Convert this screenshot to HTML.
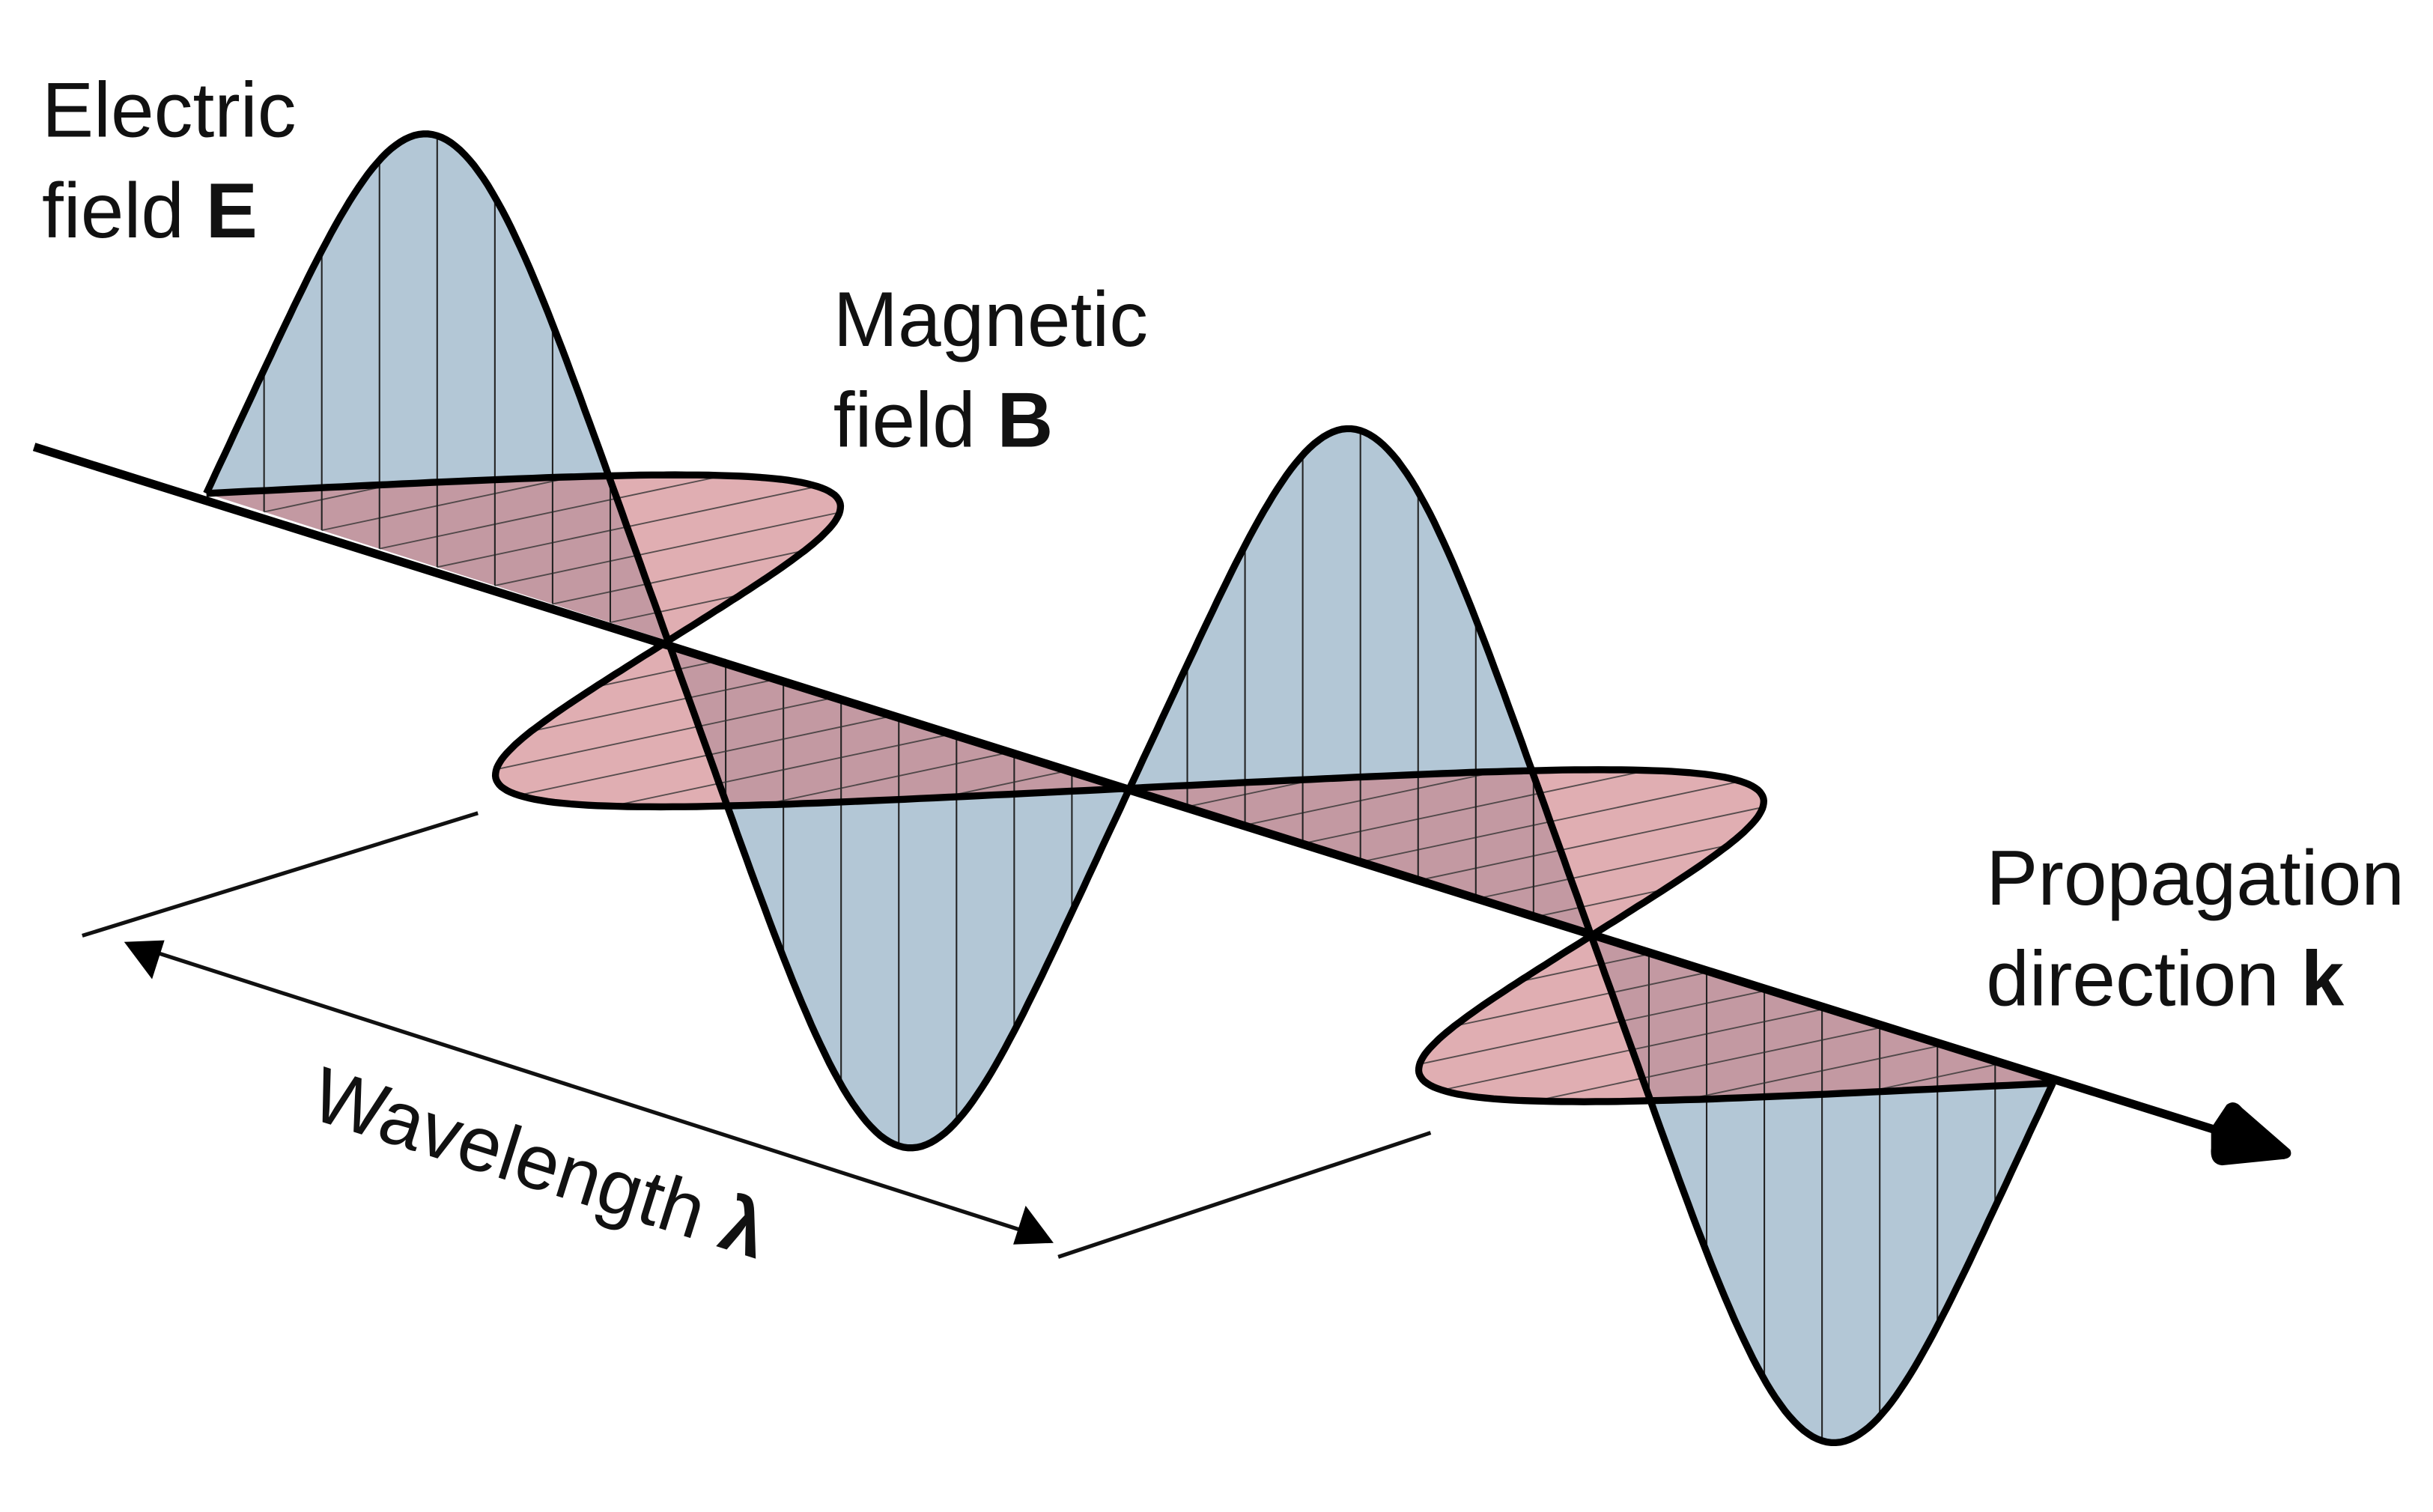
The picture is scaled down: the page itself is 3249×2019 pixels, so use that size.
<!DOCTYPE html>
<html><head><meta charset="utf-8"><style>
html,body{margin:0;padding:0;background:#fff;}
svg{display:block;}
text{font-family:"Liberation Sans",sans-serif;fill:#111;}
</style></head><body>
<svg id="s" width="3249" height="2019" viewBox="0 0 1568 974.4" preserveAspectRatio="none" xmlns="http://www.w3.org/2000/svg">
<g id="fills"></g>
<g id="hatch"></g>
<g id="curves"></g>
<line x1="22" y1="288" x2="1440" y2="732" stroke="#000" stroke-width="5.5"/>
<path d="M1425,727 L1435,712 Q1440,708 1445,714 L1476,741 Q1478,746 1472,747 L1432,751 Q1424,750 1425,740 Z" fill="#000"/>
<line x1="53" y1="603" x2="308" y2="524" stroke="#111" stroke-width="2.5"/>
<line x1="682" y1="810" x2="922" y2="730" stroke="#111" stroke-width="2.5"/>
<line x1="95" y1="612" x2="665" y2="795" stroke="#111" stroke-width="2.5"/>
<path d="M80,607 L106,606 L98,631 Z" fill="#000"/>
<path d="M679,801 L653,802 L661,777 Z" fill="#000"/>
<text x="27" y="88" font-size="50">Electric</text>
<text x="27" y="153" font-size="50">field <tspan font-weight="bold">E</tspan></text>
<text x="537" y="223" font-size="50">Magnetic</text>
<text x="537" y="288" font-size="50">field <tspan font-weight="bold">B</tspan></text>
<text x="1280" y="583" font-size="50">Propagation</text>
<text x="1280" y="648" font-size="50">direction <tspan font-weight="bold">k</tspan></text>
<text transform="translate(198,720) rotate(17.5)" font-size="50">Wavelength <tspan font-weight="bold">λ</tspan></text>
</svg>
<script>
(function(){
var NS="http://www.w3.org/2000/svg";
var A=[133,318],H=[297.5,95],E=[0,-278],D=[245,-52];
function ax(t){var k=t/Math.PI;return [A[0]+k*H[0],A[1]+k*H[1]];}
function pe(t){var a=ax(t),s=Math.sin(t-0.08*Math.sin(2*t));return [a[0]+s*E[0],a[1]+s*E[1]];}
function pb(t){var a=ax(t),s=Math.sin(t-0.06*Math.sin(2*t));return [a[0]+s*D[0],a[1]+s*D[1]];}
function el(g,tag,at){var e=document.createElementNS(NS,tag);for(var k in at)e.setAttribute(k,at[k]);document.getElementById(g).appendChild(e);}
function lobe(f,i){var t0=i*Math.PI,d="",n=100;for(var j=0;j<=n;j++){var p=f(t0+Math.PI*j/n);d+=(j?"L":"M")+p[0].toFixed(1)+","+p[1].toFixed(1);}return d;}
for(var i=0;i<4;i++){
 el("fills","path",{d:lobe(pe,i)+"Z",fill:"#b3c7d6"});
}
for(var i=0;i<4;i++){
 el("fills","path",{d:lobe(pb,i)+"Z",fill:"rgb(205,125,130)","fill-opacity":"0.62"});
}
for(var i=0;i<4;i++){
 for(var j=1;j<8;j++){
  var t=i*Math.PI+Math.PI*j/8,a=ax(t),p=pe(t),q=pb(t);
  el("hatch","line",{x1:a[0],y1:a[1],x2:p[0],y2:p[1],stroke:"#222","stroke-width":"1"});
  el("hatch","line",{x1:a[0],y1:a[1],x2:q[0],y2:q[1],stroke:"#333","stroke-width":"0.9","stroke-opacity":"0.8"});
 }
}
for(var i=0;i<4;i++){
 el("curves","path",{d:lobe(pe,i),fill:"none",stroke:"#000","stroke-width":"4.5"});
 el("curves","path",{d:lobe(pb,i),fill:"none",stroke:"#000","stroke-width":"4.5"});
}
})();
</script>
</body></html>
